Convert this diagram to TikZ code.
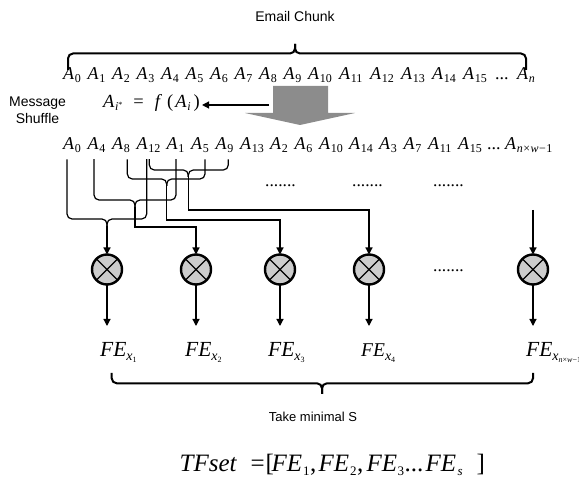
\documentclass[tikz,border=0pt]{standalone}
\usepackage{fontspec}
\setmainfont{Liberation Serif}
\setsansfont{Liberation Sans}
\usetikzlibrary{arrows.meta}
\newcommand\subs[1]{\raisebox{-3pt}{\fontsize{12}{12}\selectfont #1}}
\newcommand\Asub[1]{\textit{A}\kern0.6pt\subs{#1}}
\newcommand\FEx[1]{\textit{FE}\raisebox{-4pt}{\fontsize{14}{14}\selectfont\textit{x}\raisebox{-1.8pt}{\fontsize{8}{8}\selectfont #1}}}
\newcommand\subt[1]{\raisebox{-3.5pt}{\fontsize{13}{13}\selectfont #1}}
\newcommand\placeat[2]{\rlap{\hspace{#1}#2}}
\definecolor{arrgray}{RGB}{140,140,140}
\begin{document}
\begin{tikzpicture}[x=1pt,y=-1pt,
  seq/.style={anchor=base west, inner xsep=0pt, inner ysep=6pt, font=\fontsize{18}{18}\selectfont},
  lab/.style={anchor=base west, inner sep=0pt},
  brace/.style={line width=1.2pt, rounded corners=5pt},
  bigbrace/.style={line width=2pt, rounded corners=5pt},
  arr/.style={line width=1.2pt, -{Triangle[width=7pt,length=7pt]}},
  xcirc/.style={circle, draw, line width=2.4pt, fill=black!20, minimum size=30pt,
    inner sep=0pt, outer sep=0pt,
    path picture={\draw[line width=1.2pt]
      (path picture bounding box.north west) -- (path picture bounding box.south east)
      (path picture bounding box.north east) -- (path picture bounding box.south west);}},
  sans/.style={font=\sffamily\fontsize{14}{17}\selectfont}
]
\useasboundingbox (0,0) rectangle (579,478);

% ---- title and top brace
\node[sans] (ec) at (295,16.5) {Email Chunk};
\coordinate (tb) at (295,44);
\draw[bigbrace] (68,70) -- (68,53.5) -- (295,53.5) -- (tb);
\draw[bigbrace] (526,70) -- (526,53.5) -- (295,53.5) -- (tb);

% ---- top row
\foreach \i/\x in {0/63,1/87.5,2/112,3/136.5,4/161,5/185.5,6/210,7/234.5,8/259,9/283.5,
                   10/308,11/339,12/370,13/401,14/432,15/463}
  \node[seq] (t\i) at (\x,80) {\Asub{\i}};
\node[seq] (tdots) at (495,80) {...};
\node[seq] (tn) at (517,80) {\Asub{\textit{n}}};

% ---- message shuffle
\node[sans, align=center] (ms) at (37.5,110.5) {Message\\Shuffle};
\node[lab, inner xsep=2pt, font=\fontsize{18.5}{18.5}\selectfont] (fx) at (101,108)
  {\textit{A}\kern0.6pt\subs{\textit{i}\raisebox{3.5pt}{\fontsize{8}{8}\selectfont *}}\hspace{11pt}=\hspace{11pt}\textit{f}\hspace{5pt}(\hspace{2pt}\textit{A}\kern0.6pt\subs{\textit{i}}\hspace{3pt})};
\fill[arrgray] (273,86) -- (328,86) -- (328,113) -- (355,113) -- (300,125) -- (245,113) -- (273,113) -- cycle;
\coordinate (fa) at (269,105);
\draw[arr] (fa) -- (fx.east |- fa);

% ---- shuffled row
\foreach \i/\x in {0/63,4/87.5,8/112,12/136.5,1/166.5,5/191,9/215.5,13/240,
                   2/270,6/294.5,10/319,14/349,3/379,7/403.5,11/428,15/458}
  \node[seq] (b\i) at (\x,150) {\Asub{\i}};
\node[seq] (bdots) at (487,150) {...};
\node[seq] (bn) at (505,150) {\Asub{\textit{n}\kern0.5pt×\kern0.5pt\textit{w}\kern0.5pt−\kern0.5pt1}};

% ---- circles
\foreach \n/\x in {1/107,2/196,3/280,4/369,5/533}{
  \node[xcirc] (c\n) at (\x,269.5) {};
  \coordinate (e\n) at (\x,326);
  \draw[arr] (c\n) -- (e\n);
}

% ---- wiring
\coordinate (g1) at (107,226);
\draw[brace] (67,0 |- b0.south) -- (67,219) -- (107,219) -- (g1);
\draw[brace] (146.7,0 |- b12.south) -- (146.7,219) -- (107,219) -- (g1);
\draw[arr] (g1) -- (c1);

\coordinate (g2) at (135,207);
\draw[brace] (94,0 |- b4.south) -- (94,200) -- (135,200) -- (g2);
\draw[brace] (176,0 |- b1.south) -- (176,200) -- (135,200) -- (g2);
\draw[arr] (g2) -- (135,227) -- (c2 |- 0,227) -- (c2);

\coordinate (g3) at (166.7,186);
\draw[brace] (127.3,0 |- b8.south) -- (127.3,179) -- (166.7,179) -- (g3);
\draw[brace] (205,0 |- b5.south) -- (205,179) -- (166.7,179) -- (g3);
\draw[arr] (g3) -- (166.7,220) -- (c3 |- 0,220) -- (c3);

\coordinate (g4) at (188.3,177);
\draw[brace] (149.3,0 |- b12.south) -- (149.3,170) -- (188.3,170) -- (g4);
\draw[brace] (228.3,0 |- b9.south) -- (228.3,170) -- (188.3,170) -- (g4);
\draw[arr] (g4) -- (188.3,210) -- (c4 |- 0,210) -- (c4);

\coordinate (g5) at (533,210);
\draw[arr] (g5) -- (c5);

% ---- dots
\node[lab, font=\fontsize{17.5}{17.5}\selectfont] (d1) at (265,187) {.......};
\node[lab, font=\fontsize{17.5}{17.5}\selectfont] (d2) at (352,187) {.......};
\node[lab, font=\fontsize{17.5}{17.5}\selectfont] (d3) at (433,187) {.......};
\node[lab, font=\fontsize{17.5}{17.5}\selectfont] (d4) at (433,272) {.......};

% ---- FE labels
\node[lab, font=\fontsize{21.5}{21.5}\selectfont] (f1) at (100,357) {\FEx{1}};
\node[lab, font=\fontsize{21.5}{21.5}\selectfont] (f2) at (185,357) {\FEx{2}};
\node[lab, font=\fontsize{21.5}{21.5}\selectfont] (f3) at (268,357) {\FEx{3}};
\node[lab, font=\fontsize{19.5}{19.5}\selectfont] (f4) at (361,357) {\FEx{4}};
\node[lab, font=\fontsize{21.5}{21.5}\selectfont] (f5) at (526,357) {\FEx{\textit{n}×\textit{w}−1}};

% ---- bottom brace
\coordinate (bb) at (322,394);
\draw[bigbrace] (111.7,373) -- (111.7,383.3) -- (322,383.3) -- (bb);
\draw[bigbrace] (533,373) -- (533,383.3) -- (322,383.3) -- (bb);
\node[font=\sffamily\fontsize{13}{13}\selectfont] (tm) at (313,417) {Take minimal S};

% ---- TF set
\node[lab, font=\fontsize{25}{25}\selectfont] (tf) at (179,471.5)
  {\placeat{0pt}{\textit{TFset}}\placeat{71pt}{=}\placeat{86pt}{[}\placeat{92pt}{\textit{FE}}\placeat{123.5pt}{\subt{1}}\placeat{130.5pt}{,}%
   \placeat{139pt}{\textit{FE}}\placeat{170.5pt}{\subt{2}}\placeat{177.5pt}{,}\placeat{187pt}{\textit{FE}}\placeat{218pt}{\subt{3}}%
   \placeat{225pt}{...}\placeat{246pt}{\textit{FE}}\placeat{278pt}{\subt{\textit{s}}}\placeat{297pt}{]}\hspace{306pt}};
\end{tikzpicture}
\end{document}
